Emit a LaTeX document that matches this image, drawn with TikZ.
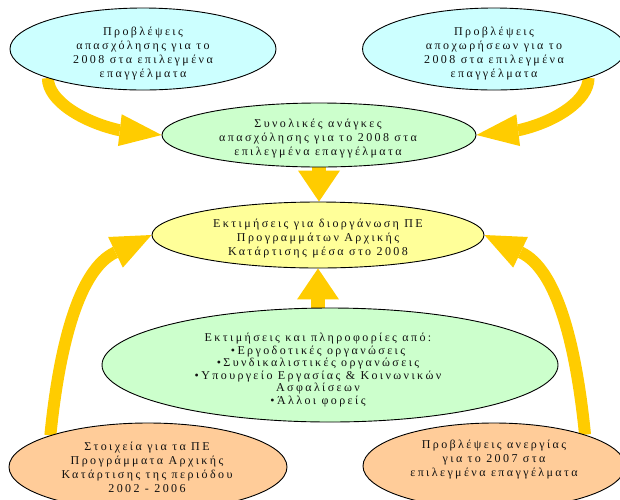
\documentclass[tikz,border=0pt]{standalone}
\usepackage{fontspec}
\newfontfamily\grfont{Liberation Serif}[LetterSpace=20]
\usetikzlibrary{shapes.geometric,arrows.meta,backgrounds,calc}
\definecolor{cyanfill}{HTML}{CCFFFF}
\definecolor{greenfill}{HTML}{CCFFCC}
\definecolor{yellowfill}{HTML}{FFFF99}
\definecolor{orangefill}{HTML}{FFCC99}
\definecolor{arrowc}{HTML}{FFCC00}
\definecolor{textc}{HTML}{111111}
\begin{document}
\begin{tikzpicture}[x=1pt,y=-1pt,
  ell/.style={ellipse, draw=black, line width=0.9pt, inner sep=0pt},
  txt/.style={align=center, inner sep=0pt, text=textc,
    font=\grfont\fontsize{12}{14}\selectfont},
  arrcurve/.style={draw=arrowc, line width=12pt, line join=round,
    -{Triangle[length=42pt,width=32pt,line width=0pt]}},
  arrbig/.style={draw=arrowc, line width=12pt, line join=round,
    -{Triangle[length=40pt,width=34pt,line width=0pt]}},
  arrstraight/.style={draw=arrowc, line width=14pt,
    -{Triangle[length=31pt,width=42pt,line width=0pt]}}]
\useasboundingbox (0,0) rectangle (620,499);
\clip (0,0) rectangle (620,499);

% ellipses
\node[ell, fill=cyanfill, minimum width=266pt, minimum height=82pt] (tl) at (143,49) {};
\node[ell, fill=cyanfill, minimum width=263pt, minimum height=82pt] (tr) at (494,49) {};
\node[ell, fill=greenfill, minimum width=314pt, minimum height=64pt] (mg) at (319,135) {};
\node[ell, fill=yellowfill, minimum width=332pt, minimum height=66pt] (yel) at (318,235) {};
\node[ell, fill=greenfill, minimum width=456pt, minimum height=114pt] (bg) at (330,365) {};
\node[ell, fill=orangefill, minimum width=278pt, minimum height=88pt] (bl) at (148,467) {};
\node[ell, fill=orangefill, minimum width=262pt, minimum height=86pt] (br) at (494,466) {};

% texts
\node[txt] (tlt) at (143,54) {Προβλέψεις\\απασχόλησης για το\\2008 στα επιλεγμένα\\επαγγέλματα};
\node[txt] (trt) at (494,54) {Προβλέψεις\\αποχωρήσεων για το\\2008 στα επιλεγμένα\\επαγγέλματα};
\node[txt] (mgt) at (318,139) {Συνολικές ανάγκες\\απασχόλησης για το 2008 στα\\επιλεγμένα επαγγέλματα};
\node[txt] (yelt) at (318,239) {Εκτιμήσεις για διοργάνωση ΠΕ\\Προγραμμάτων Αρχικής\\Κατάρτισης μέσα στο 2008};
\node[txt, font=\grfont\fontsize{12}{12.6}\selectfont] (bgt) at (318,370) {Εκτιμήσεις και πληροφορίες από:\\•Εργοδοτικές οργανώσεις\\•Συνδικαλιστικές οργανώσεις\\•Υπουργείο Εργασίας \& Κοινωνικών\\Ασφαλίσεων\\•Άλλοι φορείς};
\node[txt] (blt) at (147,467) {Στοιχεία για τα ΠΕ\\Προγράμματα Αρχικής\\Κατάρτισης της περιόδου\\2002 - 2006};
\node[txt] (brt) at (494,460) {Προβλέψεις ανεργίας\\για το 2007 στα\\επιλεγμένα επαγγέλματα};

% arrow head bases
\coordinate (tlb) at ($(mg.west)+(-43,-5)$);
\coordinate (trb) at ($(mg.east)+(43,-5)$);
\coordinate (blb) at ($(yel.west)+(-36.5,17.5)$);
\coordinate (brb) at ($(yel.east)+(36.5,17.5)$);

% arrows behind ellipses
\begin{scope}[on background layer]
\draw[arrcurve] (tl.197.5) .. controls +(0,23) and +(-35,-8) .. (tlb) -- (mg.west);
\draw[arrcurve] (tr.-17) .. controls +(0,23) and +(35,-8) .. (trb) -- (mg.east);
\draw[arrstraight] (mg.south) -- (mg.south |- yel.north);
\draw[arrstraight] (yel.south |- bg.north) -- (yel.south);
\draw[arrbig] (bl.162.8) .. controls +(9,-90) and +(-36,17) .. (blb) -- (yel.west);
\draw[arrbig] (br.19) .. controls +(-9,-90) and +(36,17) .. (brb) -- (yel.east);
\end{scope}
\end{tikzpicture}
\end{document}
